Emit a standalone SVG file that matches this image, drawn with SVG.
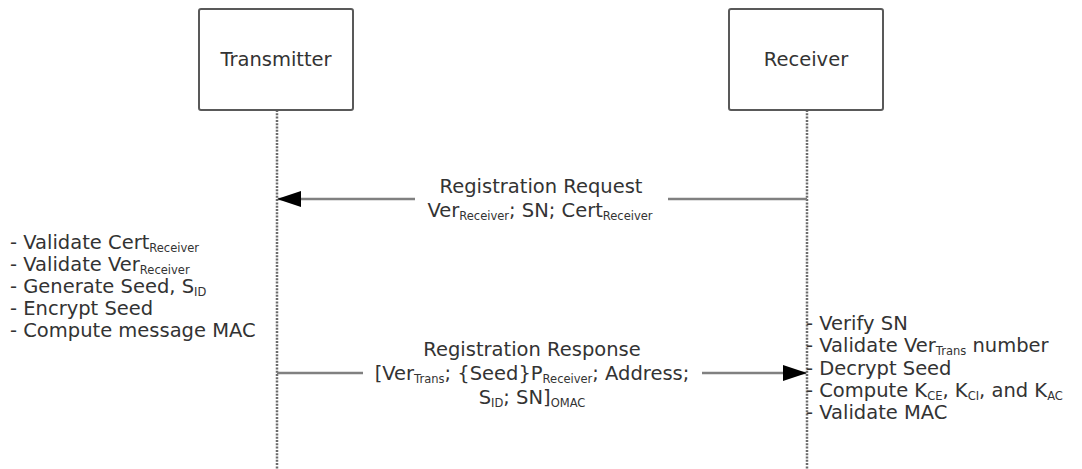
<svg xmlns="http://www.w3.org/2000/svg" width="1082" height="469" viewBox="0 0 1082 469">
<style>
.box{fill:#fff;stroke:#595959;stroke-width:2}
.life{stroke:#6b6b6b;stroke-width:2.5;stroke-dasharray:2 1.3;fill:none}
.msg{stroke:#808080;stroke-width:2.5;fill:none}
.lbg{fill:#fff}
text{font-family:"DejaVu Sans","Liberation Sans",sans-serif;font-size:19.5px;fill:#333}
.c{text-anchor:middle}
.s{font-size:11.5px}
</style>
<defs>
<marker id="ah" markerUnits="userSpaceOnUse" markerWidth="24" markerHeight="16" refX="23" refY="8" orient="auto">
<path d="M0,0 L24,8 L0,16 Z" fill="#000"/>
</marker>
</defs>
<rect width="1082" height="469" fill="#fff"/>
<g id="lifelines">
<line class="life" x1="277" y1="110" x2="277" y2="469"/>
<line class="life" x1="807" y1="110" x2="807" y2="469"/>
</g>
<g id="transmitter">
<rect class="box" x="199" y="9" width="154" height="101" rx="2"/>
<text class="c" x="276" y="66">Transmitter</text>
</g>
<g id="receiver">
<rect class="box" x="729" y="9" width="154" height="101" rx="2"/>
<text class="c" x="806" y="66">Receiver</text>
</g>
<g id="connectors">
<line class="msg" x1="807" y1="199" x2="278" y2="199" marker-end="url(#ah)"/>
<rect class="lbg" x="415" y="176" width="253" height="46"/>
<text class="c" x="541" y="193">Registration Request</text>
<text class="c" x="540" y="217">Ver<tspan class="s" dy="3">Receiver</tspan><tspan dy="-3">; SN; Cert</tspan><tspan class="s" dy="3">Receiver</tspan></text>
<line class="msg" x1="277" y1="373" x2="806" y2="373" marker-end="url(#ah)"/>
<rect class="lbg" x="363" y="338" width="339" height="72"/>
<text class="c" x="532" y="356">Registration Response</text>
<text class="c" x="532" y="380">[Ver<tspan class="s" dy="3">Trans</tspan><tspan dy="-3">; {Seed}P</tspan><tspan class="s" dy="3">Receiver</tspan><tspan dy="-3">; Address;</tspan></text>
<text class="c" x="532" y="404">S<tspan class="s" dy="3">ID</tspan><tspan dy="-3">; SN]</tspan><tspan class="s" dy="3">OMAC</tspan></text>
</g>
<g id="transmitter-steps">
<text x="10" y="249">- Validate Cert<tspan class="s" dy="3">Receiver</tspan></text>
<text x="10" y="271">- Validate Ver<tspan class="s" dy="3">Receiver</tspan></text>
<text x="10" y="293">- Generate Seed, S<tspan class="s" dy="3">ID</tspan></text>
<text x="10" y="315">- Encrypt Seed</text>
<text x="10" y="337">- Compute message MAC</text>
</g>
<g id="receiver-steps">
<text x="806" y="330">- Verify SN</text>
<text x="806" y="352">- Validate Ver<tspan class="s" dy="3">Trans</tspan><tspan dy="-3"> number</tspan></text>
<text x="806" y="375">- Decrypt Seed</text>
<text x="806" y="397">- Compute K<tspan class="s" dy="3">CE</tspan><tspan dy="-3">, K</tspan><tspan class="s" dy="3">CI</tspan><tspan dy="-3">, and K</tspan><tspan class="s" dy="3">AC</tspan></text>
<text x="806" y="419">- Validate MAC</text>
</g>
</svg>
